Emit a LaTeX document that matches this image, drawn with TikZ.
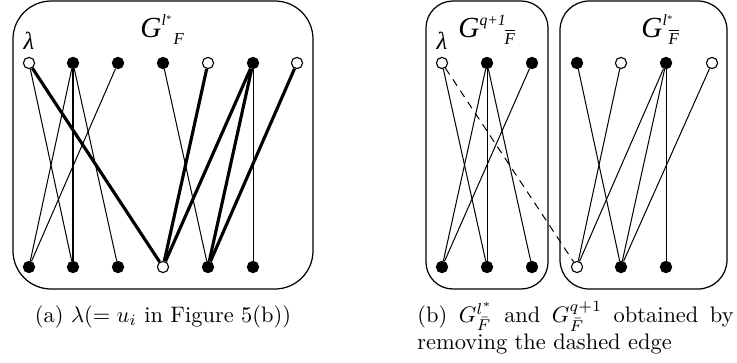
\documentclass[tikz,border=0pt]{standalone}
\usepackage{fontspec}
\newfontfamily\figfont{Liberation Serif}

% label of a subgraph: G, superscript, kern, subscript
\newcommand{\glab}[3]{{\fontsize{13}{13}\selectfont G}\raisebox{5pt}{\fontsize{7}{7}\selectfont #1}\kern#3\raisebox{-3.2pt}{\fontsize{7.5}{7.5}\selectfont #2}}
\newcommand{\lstar}{l\raisebox{1.5pt}{\fontsize{4.5}{4.5}\selectfont *}}
\newcommand{\fbar}{\ensuremath{\overline{\hbox{F}}}}

\begin{document}
\begin{tikzpicture}[x=0.446pt, y=-0.446pt, line join=round,
    vtx/.style={circle, draw, inner sep=0pt, minimum size=5pt, line width=0.5pt},
    full/.style={vtx, fill=black},
    hollow/.style={vtx, fill=white},
    light/.style={line width=0.45pt},
    heavy/.style={line width=1.4pt},
    gone/.style={line width=0.45pt, dash pattern=on 3.4pt off 2.6pt},
    frame/.style={line width=0.55pt},
    lbl/.style={font=\figfont\itshape, inner sep=0pt}]
  \useasboundingbox (0,0) rectangle (737,362);

  % (a) lambda
  \draw[frame, rounded corners=17pt] (13,1) rectangle (313,289);
  \foreach \x/\s [count=\i from 0] in {29/hollow,73/full,118/full,163/full,208/hollow,253/full,297/hollow}
    \node[\s] (at\i) at (\x,63) {};
  \foreach \x/\s [count=\i from 0] in {29/full,73/full,118/full,163/hollow,208/full,253/full}
    \node[\s] (ab\i) at (\x,267) {};
  \foreach \u/\v in {0/1,1/0,1/1,1/2,2/0,3/4,5/5}
    \draw[light] (at\u) -- (ab\v);
  \foreach \u/\v in {0/3,4/3,5/3,5/4,6/4}
    \draw[heavy] (at\u) -- (ab\v);
  \node[lbl, font=\figfont\itshape\fontsize{11}{11}\selectfont] (alam) at (29,41) {λ};
  \node[lbl, anchor=base west] (aG) at (140,37) {\glab{\lstar}{F}{1.2pt}};

  % (b) the two parts
  \draw[frame, rounded corners=12pt] (426,1) rectangle (548,289);
  \draw[frame, rounded corners=13pt] (560,1) rectangle (727,289);
  \foreach \x/\s [count=\i from 0] in {442/hollow,487/full,532/full,577/full,621/hollow,666/full,712/hollow}
    \node[\s] (bt\i) at (\x,63) {};
  \foreach \x/\s [count=\i from 0] in {442/full,487/full,532/full,577/hollow,621/full,666/full}
    \node[\s] (bb\i) at (\x,267) {};
  \foreach \u/\v in {0/1,1/0,1/1,1/2,2/0,3/4,4/3,5/3,5/4,5/5,6/4}
    \draw[light] (bt\u) -- (bb\v);
  \draw[gone] (bt0) -- (bb3);
  \node[lbl, font=\figfont\itshape\fontsize{11}{11}\selectfont] (blam) at (442,41) {λ};
  \node[lbl, anchor=base west] (bG1) at (458,37) {\glab{q+1}{\fbar}{-0.5pt}};
  \node[lbl, anchor=base west] (bG2) at (641,37) {\glab{\lstar}{\fbar}{-1.5pt}};

  % captions
  \node[anchor=base, inner sep=0pt] (capa) at (163,322) {(a) $\lambda(=u_i$ in Figure 5(b))};
  \node[anchor=north west, inner sep=0pt, text width=141pt, align=justify] (capb) at (417,301)
    {(b) $G^{l^*}_{\bar F}$ and $G^{q+1}_{\bar F}$ obtained by\linebreak removing the dashed edge};
\end{tikzpicture}
\end{document}
